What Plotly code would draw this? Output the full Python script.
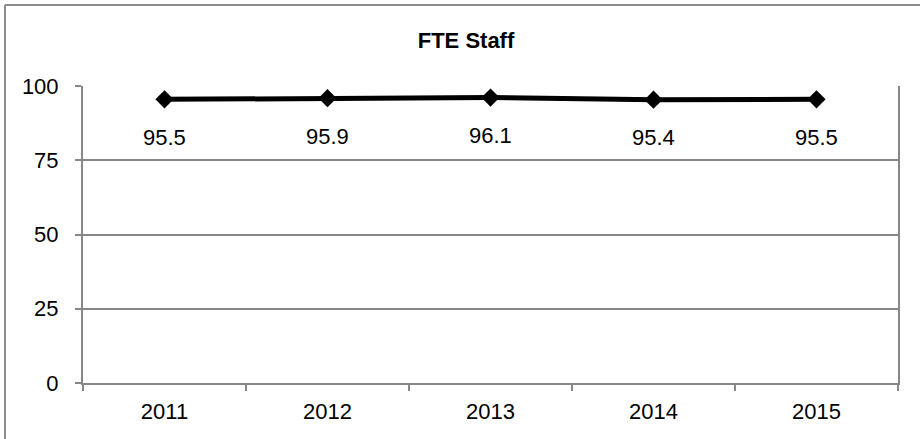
import plotly.graph_objects as go

# FTE staff counts by year
years = ["2011", "2012", "2013", "2014", "2015"]
fte_staff = [95.5, 95.9, 96.1, 95.4, 95.5]
y_ticks = [0, 25, 50, 75, 100]

FONT = "Liberation Sans, Arial, sans-serif"
GRID = "#878787"

W, H = 920, 439
ML, MR, MT, MB = 83, 22, 86, 56
PW, PH = W - ML - MR, H - MT - MB

fig = go.Figure()

fig.add_trace(go.Scatter(
    x=years,
    y=fte_staff,
    mode="lines+markers",
    line=dict(color="black", width=5),
    marker=dict(symbol="diamond", size=14, color="black"),
    hoverinfo="x+y",
    showlegend=False,
))

# value labels under each point
for i, v in enumerate(fte_staff):
    fig.add_annotation(
        xref="x", yref="y", x=i, y=v, text=str(v), showarrow=False,
        xanchor="center", yanchor="middle",
        yshift=-38, font=dict(family=FONT, size=22, color="black"),
    )

# chart frame (top and left edges)
def px_x(p):
    return (p - ML) / PW

def px_y(p):
    return (H - MB - p) / PH

fig.add_shape(
    type="line", xref="paper", yref="paper",
    x0=px_x(5), x1=px_x(W + 20), y0=px_y(5), y1=px_y(5),
    line=dict(color="#8c8c8c", width=2),
)
fig.add_shape(
    type="line", xref="paper", yref="paper",
    x0=px_x(5), x1=px_x(5), y0=px_y(5), y1=px_y(H + 20),
    line=dict(color="#8c8c8c", width=2),
)

fig.update_layout(
    width=W, height=H,
    margin=dict(l=ML, r=MR, t=MT, b=MB),
    paper_bgcolor="white",
    plot_bgcolor="white",
    font=dict(family=FONT, size=22, color="black"),
    title=dict(
        text="<b>FTE Staff</b>",
        x=466 / W, xanchor="center", xref="container",
        y=1 - 40 / H, yanchor="middle", yref="container",
        font=dict(family=FONT, size=22, color="black"),
    ),
    xaxis=dict(
        type="category",
        range=[-0.5, len(years) - 0.5],
        showline=True, linecolor=GRID, linewidth=2,
        ticks="outside", ticklen=6, tickcolor=GRID, tickwidth=2,
        tickson="boundaries",
        showgrid=False,
        ticklabelstandoff=8,
        tickfont=dict(family=FONT, size=22, color="black"),
    ),
    yaxis=dict(
        range=[0, 100],
        tickvals=y_ticks,
        showline=True, linecolor=GRID, linewidth=2, mirror=True,
        ticks="outside", ticklen=6, tickcolor=GRID, tickwidth=2,
        showgrid=True, gridcolor=GRID, gridwidth=1.5,
        zeroline=False,
        ticklabelstandoff=12,
        tickfont=dict(family=FONT, size=22, color="black"),
    ),
)

fig.write_html("out.html")
